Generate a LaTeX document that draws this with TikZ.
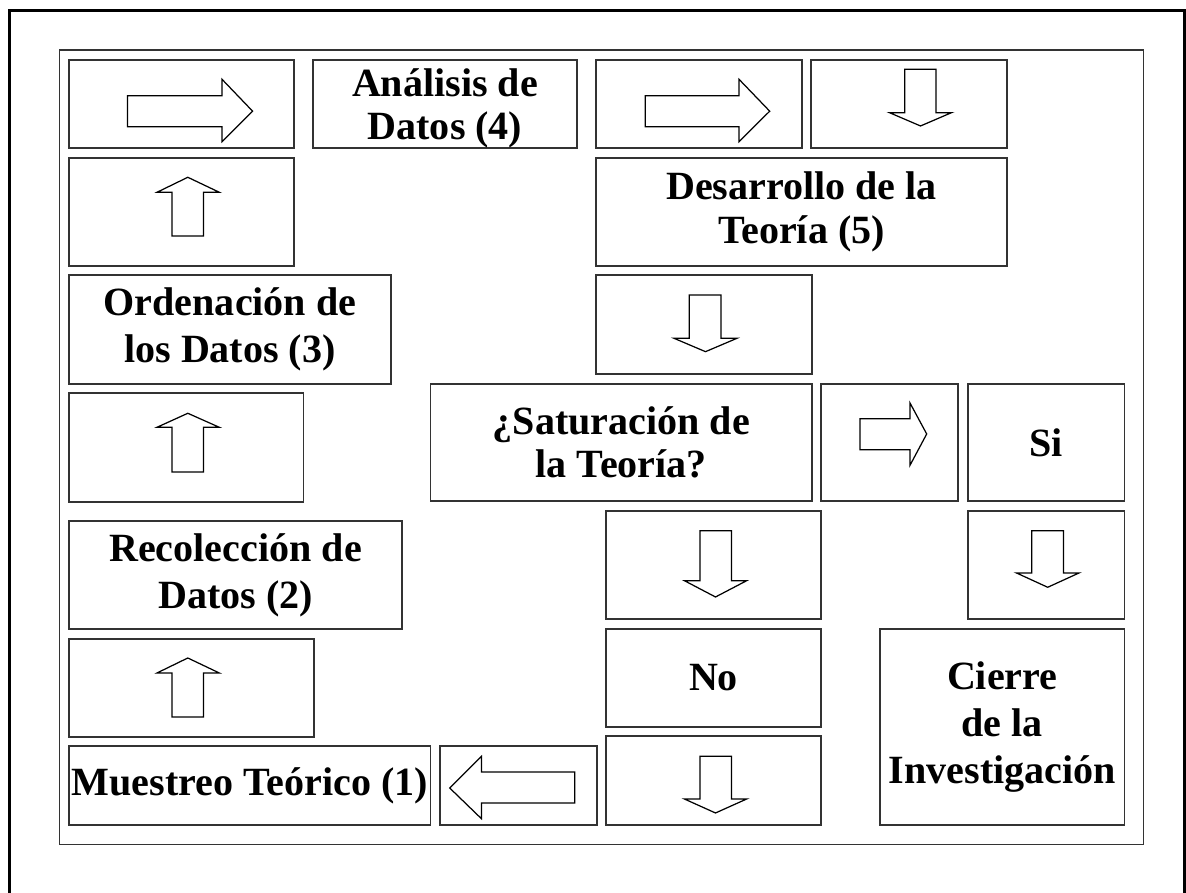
\documentclass[tikz,border=0pt]{standalone}
\usepackage{fontspec}
\setmainfont{Liberation Serif}

\tikzset{
    box/.style={draw=black!80, line width=0.45pt, align=center, inner sep=0pt,
        font=\bfseries\fontsize{11.4}{12.3}\selectfont},
    wide lines/.style={font=\bfseries\fontsize{11.4}{13.4}\selectfont},
    strutted/.style={execute at begin node={\rule{0pt}{10.2pt}}},
    blockarrow/.style={draw, line width=0.35pt, line join=miter}
}

\begin{document}
\begin{tikzpicture}
        \useasboundingbox (0,0) rectangle (11.86,8.93);

        % Outer frame (open at the bottom)
        \draw[line width=0.85pt] (0.095,0) -- (0.095,8.825) -- (11.84,8.825) -- (11.84,0);

        % Inner frame
        \draw[draw=black!80, line width=0.45pt] (0.593,0.485) rectangle (11.435,8.43);

        % Text boxes
        \node[box, minimum width=3.615cm, minimum height=0.79cm] (muestreo) at (2.4975,1.075) {Muestreo Teórico (1)};
        \node[box, strutted, wide lines, minimum width=3.33cm, minimum height=1.08cm] (recoleccion) at (2.355,3.18) {Recolección de\\Datos (2)};
        \node[box, strutted, wide lines, minimum width=3.22cm, minimum height=1.09cm] (ordenacion) at (2.30,5.635) {Ordenación de\\los Datos (3)};
        \node[box, strutted, minimum width=2.64cm, minimum height=0.88cm] (analisis) at (4.45,7.89) {Análisis de\\Datos \smash{(4)}};
        \node[box, strutted, minimum width=4.11cm, minimum height=1.08cm] (desarrollo) at (8.015,6.81) {Desarrollo de la\\Teoría (5)};
        \node[box, strutted, minimum width=3.815cm, minimum height=1.17cm] (saturacion) at (6.2125,4.505) {¿Saturación de\\la Teoría?};
        \node[box, minimum width=1.565cm, minimum height=1.17cm] (si) at (10.4625,4.505) {Si};
        \node[box, minimum width=2.15cm, minimum height=0.98cm] (no) at (7.135,2.15) {No};
        \node[box, strutted, font=\bfseries\fontsize{11.4}{13.5}\selectfont, minimum width=2.445cm, minimum height=1.96cm] (cierre) at (10.0225,1.66) {Cierre\\de la\\Investigación};

        % Boxes holding the block arrows
        \node[box, minimum width=2.45cm, minimum height=0.98cm] (up12) at (1.915,2.05) {};
        \node[box, minimum width=2.345cm, minimum height=1.09cm] (up23) at (1.8625,4.455) {};
        \node[box, minimum width=2.25cm, minimum height=1.08cm] (up34) at (1.815,6.81) {};
        \node[box, minimum width=2.25cm, minimum height=0.88cm] (right34) at (1.815,7.89) {};
        \node[box, minimum width=2.06cm, minimum height=0.88cm] (right45) at (6.99,7.89) {};
        \node[box, minimum width=1.96cm, minimum height=0.88cm] (down45) at (9.09,7.89) {};
        \node[box, minimum width=2.16cm, minimum height=0.99cm] (down5s) at (7.04,5.685) {};
        \node[box, minimum width=1.37cm, minimum height=1.17cm] (rightsi) at (8.895,4.505) {};
        \node[box, minimum width=1.565cm, minimum height=1.08cm] (downsi) at (10.4625,3.28) {};
        \node[box, minimum width=2.15cm, minimum height=1.08cm] (downno) at (7.135,3.28) {};
        \node[box, minimum width=2.15cm, minimum height=0.89cm] (downback) at (7.135,1.125) {};
        \node[box, minimum width=1.57cm, minimum height=0.79cm] (leftback) at (5.185,1.075) {};

        % Up arrows
        \draw[blockarrow] (1.72,1.76) -- (1.72,2.20) -- (1.57,2.20) -- (1.878,2.35) -- (2.193,2.20) -- (2.036,2.20) -- (2.036,1.76) -- cycle;
        \draw[blockarrow] (1.72,4.21) -- (1.72,4.657) -- (1.57,4.657) -- (1.878,4.797) -- (2.193,4.657) -- (2.036,4.657) -- (2.036,4.21) -- cycle;
        \draw[blockarrow] (1.72,6.57) -- (1.72,7.007) -- (1.57,7.007) -- (1.878,7.157) -- (2.193,7.007) -- (2.036,7.007) -- (2.036,6.57) -- cycle;

        % Right arrows
        \draw[blockarrow] (1.274,7.663) -- (1.274,7.973) -- (2.22,7.973) -- (2.22,8.137) -- (2.526,7.818) -- (2.22,7.513) -- (2.22,7.663) -- cycle;
        \draw[blockarrow] (6.453,7.663) -- (6.453,7.973) -- (7.39,7.973) -- (7.39,8.137) -- (7.697,7.818) -- (7.39,7.513) -- (7.39,7.663) -- cycle;
        \draw[blockarrow] (8.60,4.433) -- (8.60,4.743) -- (9.10,4.743) -- (9.10,4.90) -- (9.267,4.59) -- (9.10,4.277) -- (9.10,4.433) -- cycle;

        % Down arrows
        \draw[blockarrow] (9.048,8.237) -- (9.048,7.803) -- (8.895,7.803) -- (9.205,7.67) -- (9.515,7.803) -- (9.36,7.803) -- (9.36,8.237) -- cycle;
        \draw[blockarrow] (6.893,5.98) -- (6.893,5.547) -- (6.74,5.547) -- (7.055,5.413) -- (7.37,5.547) -- (7.21,5.547) -- (7.21,5.98) -- cycle;
        \draw[blockarrow] (7.00,3.623) -- (7.00,3.123) -- (6.844,3.123) -- (7.155,2.96) -- (7.467,3.123) -- (7.314,3.123) -- (7.314,3.623) -- cycle;
        \draw[blockarrow] (10.318,3.623) -- (10.318,3.20) -- (10.165,3.20) -- (10.477,3.057) -- (10.79,3.20) -- (10.636,3.20) -- (10.636,3.623) -- cycle;
        \draw[blockarrow] (7.00,1.367) -- (7.00,0.94) -- (6.844,0.94) -- (7.155,0.80) -- (7.467,0.94) -- (7.314,0.94) -- (7.314,1.367) -- cycle;

        % Left arrow
        \draw[blockarrow] (5.748,1.21) -- (4.814,1.21) -- (4.814,1.367) -- (4.497,1.05) -- (4.814,0.743) -- (4.814,0.90) -- (5.748,0.90) -- cycle;
\end{tikzpicture}
\end{document}
